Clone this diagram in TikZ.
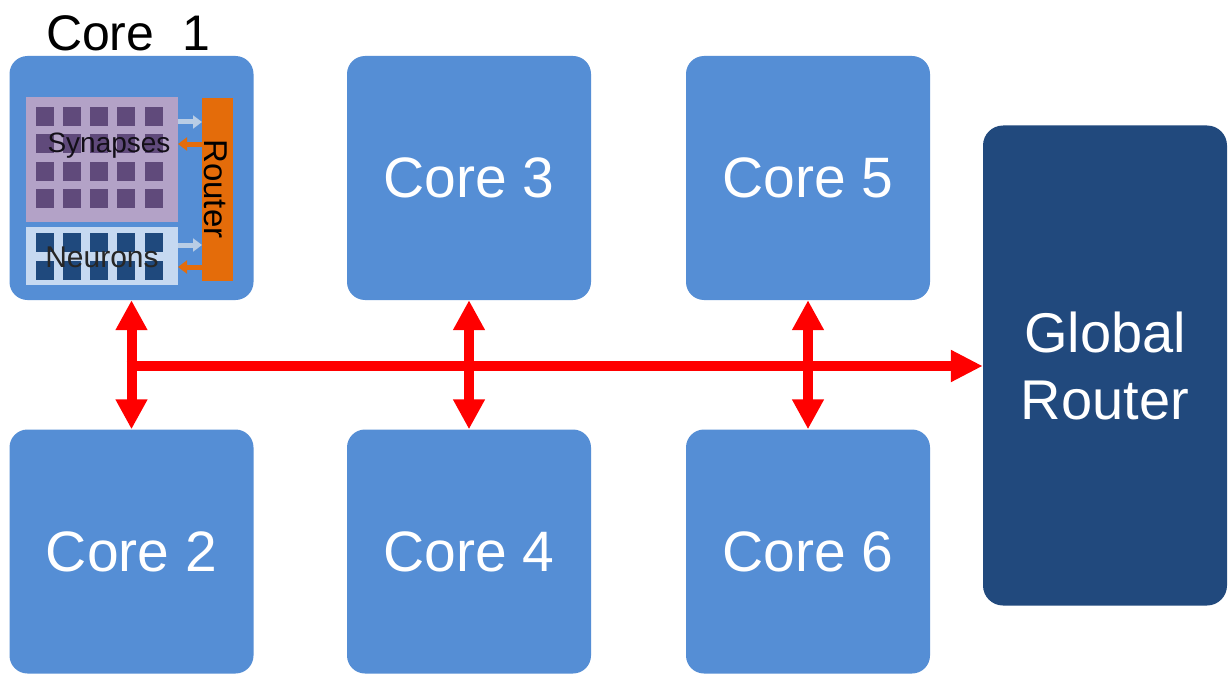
\documentclass[tikz,border=0pt]{standalone}
\usepackage{fontspec}
\setmainfont{Liberation Sans}
\usetikzlibrary{arrows.meta}
\definecolor{coreblue}{HTML}{558ED5}
\definecolor{grblue}{HTML}{21497D}
\definecolor{synbg}{HTML}{B3A2C7}
\definecolor{synsq}{HTML}{604A7B}
\definecolor{neubg}{HTML}{C6D9F1}
\definecolor{neusq}{HTML}{1F497D}
\definecolor{routor}{HTML}{E46C0A}
\definecolor{arrowblue}{HTML}{B9CDE5}
\tikzset{
  corebox/.style={fill=coreblue, draw=none, rounded corners=18pt, minimum width=244pt, minimum height=244pt, inner sep=0pt, text=white, font=\fontsize{57}{60}\selectfont},
  grbox/.style={fill=grblue, draw=none, rounded corners=20pt, minimum width=244pt, minimum height=480pt, inner sep=0pt, text=white, align=center, font=\fontsize{56}{67}\selectfont},
  bus/.style={draw=red, line width=10pt},
  busarrow/.style={bus, {Triangle[width=30pt,length=30pt]}-{Triangle[width=30pt,length=30pt]}},
  cell/.style={minimum width=18pt, minimum height=19pt, inner sep=0pt, draw=none},
  smallarr/.style={line width=5pt, -{Triangle[width=13pt,length=9pt]}},
}
\begin{document}
\begin{tikzpicture}[x=1pt,y=-1pt]
\useasboundingbox (0,0) rectangle (1228,674);
\fill[white] (0,0) rectangle (1228,674);

% cores
\node[corebox] (c1) at (131.5,178) {};
\node[corebox] (c3) at (469,178) {Core 3};
\node[corebox] (c5) at (808,178) {Core 5};
\node[corebox] (c2) at (131.5,551.5) {Core 2};
\node[corebox] (c4) at (469,551.5) {Core 4};
\node[corebox] (c6) at (808,551.5) {Core 6};
\node[grbox] (gr) at (1105,365.5) {Global\\Router};

\node[font=\fontsize{50}{52}\selectfont, anchor=base] (c1lbl) at (128,51) {Core\ \ 1};

% core 1 internals
\node[fill=synbg, minimum width=152pt, minimum height=125pt, inner sep=0pt] (syn) at (102,159.5) {};
\node[fill=neubg, minimum width=152pt, minimum height=58pt, inner sep=0pt] (neu) at (102,256) {};
\node[fill=routor, minimum width=31pt, minimum height=183pt, inner sep=0pt] (rt) at (217.5,189.5) {};
\foreach \cx in {44.5,71.5,98.5,126,154} {
  \foreach \cy in {117,143.5,171,198} {
    \node[cell, fill=synsq] at (\cx,\cy) {};
  }
  \foreach \cy in {242,270} {
    \node[cell, fill=neusq] at (\cx,\cy) {};
  }
}
\node[font=\fontsize{28}{30}\selectfont, text=black!80!synsq] (syntext) at (109,146) {Synapses};
\node[font=\fontsize{30}{32}\selectfont, text=black!85] (neutext) at (102,257) {Neurons};
\node[font=\fontsize{33}{35}\selectfont, text=black, rotate=-90] (rttext) at (216,189) {Router};

\coordinate (sa1) at (178,122);
\coordinate (sa2) at (202,122);
\coordinate (sb1) at (202,144);
\coordinate (sb2) at (178,144);
\coordinate (na1) at (178,245);
\coordinate (na2) at (202,245);
\coordinate (nb1) at (202,267);
\coordinate (nb2) at (178,267);
\draw[smallarr, draw=arrowblue] (sa1) -- (sa2);
\draw[smallarr, draw=routor] (sb1) -- (sb2);
\draw[smallarr, draw=arrowblue] (na1) -- (na2);
\draw[smallarr, draw=routor] (nb1) -- (nb2);

% bus
\coordinate (busL) at (131.5,366);
\draw[bus, -{Triangle[width=30pt,length=32pt]}] ([xshift=-5pt]busL) -- (gr.west |- busL);
\draw[busarrow] (c1.south) -- (c2.north);
\draw[busarrow] (c3.south) -- (c4.north);
\draw[busarrow] (c5.south) -- (c6.north);
\end{tikzpicture}
\end{document}
